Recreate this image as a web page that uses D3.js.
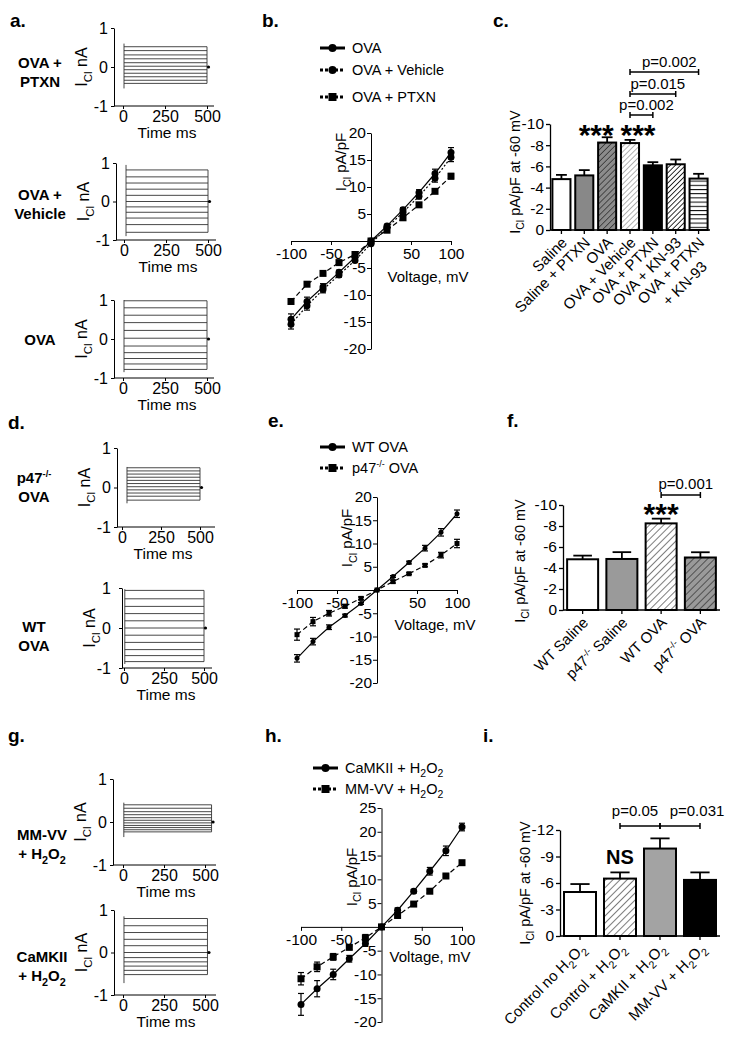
<!DOCTYPE html>
<html><head><meta charset="utf-8">
<script src="https://cdn.jsdelivr.net/npm/d3@7"></script>
<style>
body{margin:0;background:#fff;}
svg{display:block;}
</style></head><body>
<svg id="fig" width="731" height="1038"></svg>
<script>
// ================= DATA =================
// raw current traces (nA) – one value per voltage step
const traceTimeTicks = [0, 250, 500];
const traceCurrentTicks = [-1, 0, 1];
const traceOvaPtxn    = [0.52, 0.42, 0.31, 0.21, 0.11, 0.02, -0.07, -0.16, -0.25, -0.34, -0.42];
const spikeOvaPtxn    = [0.6, -0.55];
const winOvaPtxn      = [6, 500];
const traceOvaVehicle = [0.82, 0.64, 0.48, 0.32, 0.16, 0.0, -0.14, -0.28, -0.43, -0.6, -0.8];
const spikeOvaVehicle = [0.95, -0.9];
const winOvaVehicle   = [12, 500];
const traceOva        = [0.98, 0.8, 0.61, 0.42, 0.22, 0.02, -0.18, -0.35, -0.5, -0.64, -0.78];
const spikeOva        = [1.0, -0.85];
const winOva          = [6, 500];
const traceP47Ova     = [0.5, 0.42, 0.34, 0.26, 0.18, 0.1, 0.02, -0.06, -0.14, -0.22, -0.32];
const spikeP47Ova     = [0.52, -0.4];
const winP47Ova       = [32, 500];
const traceWtOva      = [0.94, 0.73, 0.54, 0.36, 0.18, 0.0, -0.18, -0.36, -0.54, -0.69, -0.84];
const spikeWtOva      = [0.97, -0.9];
const winWtOva        = [5, 500];
const traceMmvv       = [0.4, 0.32, 0.24, 0.17, 0.1, 0.04, -0.02, -0.08, -0.13, -0.18, -0.23];
const spikeMmvv       = [0.45, -0.35];
const winMmvv         = [5, 540];
const traceCamkii     = [0.8, 0.63, 0.47, 0.31, 0.16, 0.0, -0.12, -0.22, -0.32, -0.42, -0.52];
const spikeCamkii     = [0.85, -0.72];
const winCamkii       = [6, 515];

// I-V curves (pA/pF)
const voltages = [-100, -80, -60, -40, -20, 0, 20, 40, 60, 80, 100];
const ivXTicks = [-100, -50, 50, 100];
const ivTicks20 = [-20, -15, -10, -5, 5, 10, 15, 20];
const ivTicks25 = [-20, -15, -10, -5, 5, 10, 15, 20, 25];
const ivOva         = [-14.5, -11.2, -8.5, -5.8, -3.0, 0, 2.8, 5.8, 9.0, 12.5, 16.4];
const ivOvaErr      = [1.0, 0.8, 0.6, 0.4, 0.3, 0.2, 0.3, 0.4, 0.5, 0.8, 0.9];
const ivOvaVeh      = [-15.4, -12.0, -9.0, -6.3, -3.6, -0.5, 2.5, 5.3, 8.3, 11.6, 15.5];
const ivOvaVehErr   = [0.9, 0.8, 0.6, 0.4, 0.3, 0.3, 0.3, 0.4, 0.5, 0.7, 0.8];
const ivOvaPtxn     = [-11.2, -8.0, -6.0, -4.0, -2.5, 0, 2.0, 4.3, 6.7, 9.2, 12.0];
const ivOvaPtxnErr  = [0.4, 0.3, 0.3, 0.3, 0.3, 0.2, 0.2, 0.3, 0.3, 0.3, 0.5];
const ivWt          = [-14.7, -11.1, -8.0, -5.5, -2.9, 0, 2.9, 5.9, 9.0, 12.4, 16.4];
const ivWtErr       = [0.8, 0.7, 0.5, 0.3, 0.2, 0.1, 0.2, 0.3, 0.6, 0.8, 0.8];
const ivP47         = [-9.6, -6.8, -5.0, -3.5, -1.8, 0, 1.8, 3.5, 5.3, 7.5, 10.0];
const ivP47Err      = [1.2, 0.9, 0.6, 0.4, 0.3, 0.1, 0.3, 0.2, 0.3, 0.6, 0.9];
const ivCamkii      = [-16.3, -13.0, -10.0, -6.7, -3.5, 0, 3.5, 7.5, 11.7, 16.0, 21.0];
const ivCamkiiErr   = [2.3, 1.7, 1.1, 0.7, 0.6, 0.2, 0.5, 0.4, 0.8, 1.0, 0.8];
const ivMmvv        = [-10.9, -8.4, -6.3, -4.3, -2.3, 0, 2.4, 4.8, 7.5, 10.7, 13.5];
const ivMmvvErr     = [1.3, 1.0, 0.7, 0.5, 0.7, 0.2, 0.5, 0.3, 0.3, 0.3, 0.4];

// bar charts (pA/pF at -60 mV)
const barCCats   = ['Saline', 'Saline + PTXN', 'OVA', 'OVA + Vehicle', 'OVA + PTXN', 'OVA + KN-93', 'OVA + PTXN\n+ KN-93'];
const barCValues = [-4.8, -5.15, -8.25, -8.2, -6.1, -6.2, -4.85];
const barCErr    = [0.4, 0.5, 0.5, 0.3, 0.3, 0.45, 0.45];
const barCTicks  = [0, -2, -4, -6, -8, -10];
const barCPvals  = [[3, 4, 'p=0.002'], [3, 5, 'p=0.015'], [3, 6, 'p=0.002']];

const barFCats   = ['WT Saline', 'p47^{-/-} Saline', 'WT OVA', 'p47^{-/-} OVA'];
const barFValues = [-4.83, -4.86, -8.25, -5.0];
const barFErr    = [0.35, 0.65, 0.45, 0.5];
const barFTicks  = [0, -2, -4, -6, -8, -10];
const barFPvals  = [[2, 3, 'p=0.001']];

const barICats   = ['Control no H_{2}O_{2}', 'Control + H_{2}O_{2}', 'CaMKII + H_{2}O_{2}', 'MM-VV + H_{2}O_{2}'];
const barIValues = [-4.98, -6.5, -9.9, -6.35];
const barIErr    = [0.9, 0.7, 1.15, 0.85];
const barITicks  = [0, -3, -6, -9, -12];
const barIPvals  = [[1, 2, 'p=0.05'], [2, 3, 'p=0.031']];

// ================= DRAWING =================
const FONT = "'Liberation Sans', Arial, Helvetica, sans-serif";
const svg = d3.select('#fig').attr('font-family', FONT);

// patterns
const defs = svg.append('defs');
function hatch(id, bg, fg, spacing, w, angle) {
  const p = defs.append('pattern').attr('id', id).attr('patternUnits', 'userSpaceOnUse')
    .attr('width', spacing).attr('height', spacing).attr('patternTransform', `rotate(${angle})`);
  p.append('rect').attr('width', spacing).attr('height', spacing).attr('fill', bg);
  p.append('line').attr('x1', 0).attr('y1', 0).attr('x2', 0).attr('y2', spacing)
    .attr('stroke', fg).attr('stroke-width', w);
}
hatch('hGrayDark', '#8c8c8c', '#222', 4.2, 1.3, 45);
hatch('hLight', '#fff', '#666', 3.8, 1.0, 45);
hatch('hBW', '#fff', '#000', 3.6, 1.6, 45);
hatch('hStripe', '#fff', '#000', 4.2, 2.0, 90);
hatch('hWhite', '#fff', '#111', 5, 1.1, 45);
hatch('hGray', '#9a9a9a', '#111', 5, 1.1, 45);

function rich(sel, str, size) {
  const parts = str.split(/(_\{[^}]*\}|\^\{[^}]*\})/).filter(s => s.length);
  let shift = 0;
  parts.forEach(p => {
    let t = p, dy = 0, fs = size;
    if (p.startsWith('_{')) { t = p.slice(2, -1); dy = size * 0.3; fs = size * 0.72; }
    else if (p.startsWith('^{')) { t = p.slice(2, -1); dy = -size * 0.4; fs = size * 0.62; }
    const span = sel.append('tspan').text(t).attr('font-size', fs);
    const d = dy - shift;
    if (d) span.attr('dy', d);
    shift = dy;
  });
}
function styleAxis(g, fs) {
  g.attr('font-family', FONT).attr('font-size', fs);
  g.selectAll('path,line').attr('stroke', '#000').attr('stroke-width', 1);
  g.selectAll('text').attr('fill', '#000');
}
function letter(t, x, y) {
  svg.append('text').attr('x', x).attr('y', y).attr('font-size', 19).attr('font-weight', 'bold').text(t);
}
function rotLabel(g, x, y, str, fs) {
  const t = g.append('text').attr('transform', `translate(${x},${y}) rotate(-90)`)
    .attr('text-anchor', 'middle').attr('font-size', fs);
  rich(t, str, fs);
}

// ---------- trace panels ----------
function tracePanel(p) {
  const x = d3.scaleLinear().domain([0, 500]).range([p.x0, p.x500]);
  const y = d3.scaleLinear().domain([-1, 1]).range([p.yb, p.yt]);
  const g = svg.append('g');
  const ya = g.append('g').attr('transform', `translate(${p.ax},0)`)
    .call(d3.axisLeft(y).tickValues(traceCurrentTicks).tickSize(3).tickSizeOuter(0)
      .tickPadding(p.tp || 3).tickFormat(d => String(d)));
  styleAxis(ya, 16);
  const xa = g.append('g').attr('transform', `translate(0,${p.yb})`)
    .call(d3.axisBottom(x).tickValues(traceTimeTicks).tickSize(3).tickSizeOuter(0)
      .tickPadding(2).tickFormat(d => String(d)));
  xa.select('.domain').remove();
  styleAxis(xa, 16);
  g.append('line').attr('x1', p.ax).attr('x2', p.xEnd).attr('y1', p.yb).attr('y2', p.yb)
    .attr('stroke', '#000');
  const [t0, t1] = p.win;
  const tr = g.append('g').attr('stroke', '#333').attr('stroke-width', 0.9);
  p.levels.forEach(v => tr.append('line').attr('x1', x(t0)).attr('x2', x(t1))
    .attr('y1', y(v)).attr('y2', y(v)));
  tr.append('line').attr('x1', x(t0)).attr('x2', x(t0))
    .attr('y1', y(p.spike[0])).attr('y2', y(p.spike[1]));
  tr.append('line').attr('x1', x(t1)).attr('x2', x(t1))
    .attr('y1', y(d3.max(p.levels))).attr('y2', y(d3.min(p.levels)));
  g.append('circle').attr('cx', x(t1) + 1.5).attr('cy', y(0)).attr('r', 1.6).attr('fill', '#000');
  rotLabel(g, p.ax - 27, y(0), 'I_{Cl} nA', 16);
  g.append('text').attr('x', (p.x0 + p.x500) / 2 + 2).attr('y', p.yb + 32)
    .attr('text-anchor', 'middle').attr('font-size', 15.5).text('Time ms');
  p.name.forEach((s, i) => {
    const t = g.append('text').attr('x', p.nx).attr('y', p.ny + i * 19)
      .attr('text-anchor', 'middle').attr('font-size', 15).attr('font-weight', 'bold');
    rich(t, s, 15);
  });
}

// ---------- I-V panels ----------
function marker(g, type, cx, cy, size) {
  if (type === 'circle') g.append('circle').attr('cx', cx).attr('cy', cy).attr('r', size / 2).attr('fill', '#000');
  else g.append('rect').attr('x', cx - size / 2).attr('y', cy - size / 2)
    .attr('width', size).attr('height', size).attr('fill', '#000');
}
function ivPanel(p) {
  const x = d3.scaleLinear().domain([-100, 100]).range([p.xl, p.xr]);
  const y = d3.scaleLinear().domain(p.yDom).range([p.yb, p.yt]);
  const g = svg.append('g');
  const xa = g.append('g').attr('transform', `translate(0,${y(0)})`)
    .call(d3.axisBottom(x).tickValues(ivXTicks).tickSize(4).tickSizeOuter(0)
      .tickPadding(3).tickFormat(d => String(d)));
  styleAxis(xa, 15.5);
  const ya = g.append('g').attr('transform', `translate(${x(0)},0)`)
    .call(d3.axisLeft(y).tickValues(p.yTicks).tickSize(4).tickSizeOuter(0)
      .tickPadding(1).tickFormat(d => String(d)));
  styleAxis(ya, 15.5);
  const line = d3.line().x((d, i) => x(voltages[i])).y(d => y(d));
  p.series.forEach(s => {
    g.append('path').datum(s.values).attr('d', line).attr('fill', 'none')
      .attr('stroke', '#000').attr('stroke-width', 1.2).attr('stroke-dasharray', s.dash);
    s.values.forEach((v, i) => {
      const cx = x(voltages[i]), e = s.err[i];
      const eb = g.append('g').attr('stroke', '#000').attr('stroke-width', 1.2);
      eb.append('line').attr('x1', cx).attr('x2', cx).attr('y1', y(v - e)).attr('y2', y(v + e));
      [v - e, v + e].forEach(w => eb.append('line').attr('x1', cx - 3).attr('x2', cx + 3)
        .attr('y1', y(w)).attr('y2', y(w)));
      marker(g, s.marker, cx, y(v), s.size);
    });
  });
  p.series.forEach((s, i) => {
    const ly = p.legY[i];
    g.append('line').attr('x1', p.legX).attr('x2', p.legX + 25).attr('y1', ly).attr('y2', ly)
      .attr('stroke', '#000').attr('stroke-width', 3).attr('stroke-dasharray', s.legDash);
    marker(g, s.marker, p.legX + 12.5, ly, 8);
    const t = g.append('text').attr('x', p.legX + 32).attr('y', ly + 5).attr('font-size', 14.5);
    rich(t, s.name, 14.5);
  });
  rotLabel(g, x(0) - 25, p.labY, 'I_{Cl} pA/pF', 15);
  g.append('text').attr('x', p.vx).attr('y', p.vy).attr('text-anchor', 'middle')
    .attr('font-size', 15).text('Voltage, mV');
}

// ---------- bar panels ----------
function barPanel(p) {
  const x = d3.scaleBand().domain(p.cats).range([p.xl, p.xr]).paddingInner(p.pad).paddingOuter(p.pad / 2);
  const y = d3.scaleLinear().domain([0, p.ymin]).range([p.yb, p.yt]);
  const bw = x.bandwidth();
  const g = svg.append('g');
  const ya = g.append('g').attr('transform', `translate(${p.xl},0)`)
    .call(d3.axisLeft(y).tickValues(p.ticks).tickSize(4).tickSizeOuter(0)
      .tickPadding(2).tickFormat(d => String(d)));
  styleAxis(ya, 15.5);
  ya.selectAll('path,line').attr('stroke-width', 1.3);
  g.append('line').attr('x1', p.xl).attr('x2', p.xr).attr('y1', p.yb).attr('y2', p.yb)
    .attr('stroke', '#000').attr('stroke-width', 1.3);
  p.cats.forEach((c, i) => {
    const cx = x(c) + bw / 2, v = p.values[i], e = p.err[i];
    g.append('line').attr('x1', cx).attr('x2', cx).attr('y1', p.yb).attr('y2', p.yb + 4).attr('stroke', '#000').attr('stroke-width', 1.3);
    const eb = g.append('g').attr('stroke', '#000').attr('stroke-width', 1.8);
    eb.append('line').attr('x1', cx).attr('x2', cx).attr('y1', y(v)).attr('y2', y(v - e));
    eb.append('line').attr('x1', cx - bw * 0.3).attr('x2', cx + bw * 0.3).attr('y1', y(v - e)).attr('y2', y(v - e));
    g.append('rect').attr('x', x(c)).attr('y', y(v)).attr('width', bw).attr('height', p.yb - y(v))
      .attr('fill', p.fills[i]).attr('stroke', '#000').attr('stroke-width', 2);
    const t = g.append('text').attr('transform', `translate(${cx + 3},${p.yb + 10}) rotate(-45)`)
      .attr('text-anchor', 'end').attr('font-size', 15);
    c.split('\n').forEach((ln, k) => {
      const sub = t.append('tspan').attr('x', k ? -15 : 0).attr('y', k ? 24 : 5);
      rich(sub, ln, 15);
    });
  });
  // significance brackets
  p.pvals.forEach((pv, k) => {
    const [a, b, txt] = pv;
    const xa = x(p.cats[a]) + bw / 2, xb = x(p.cats[b]) + bw / 2, by = p.brY[k];
    const bg = g.append('g').attr('stroke', '#000').attr('stroke-width', 1.5);
    bg.append('line').attr('x1', xa).attr('x2', xb).attr('y1', by).attr('y2', by);
    [xa, xb].forEach(xx => bg.append('line').attr('x1', xx).attr('x2', xx).attr('y1', by - 3).attr('y2', by + 3));
    g.append('text').attr('x', p.txX ? p.txX[k] : (xa + xb) / 2 + 5).attr('y', p.txY[k])
      .attr('text-anchor', 'middle').attr('font-size', 15).text(txt);
  });
  rotLabel(g, p.labX, p.labY, 'I_{Cl} pA/pF at -60 mV', 14.5);
  return { x, y, bw, g };
}

// ---------- panel letters ----------
letter('a.', 10, 27); letter('b.', 262, 27); letter('c.', 493, 27);
letter('d.', 8, 429); letter('e.', 268, 427); letter('f.', 507, 427);
letter('g.', 8, 742); letter('h.', 265, 742); letter('i.', 483, 742);

// ---------- traces ----------
tracePanel({ ax: 114, x0: 123, x500: 207, yt: 28, yb: 106, xEnd: 214, levels: traceOvaPtxn, spike: spikeOvaPtxn, win: winOvaPtxn, name: ['OVA +', 'PTXN'], nx: 40, ny: 68 });
tracePanel({ ax: 116, x0: 124, x500: 208, yt: 163, yb: 240, xEnd: 216, levels: traceOvaVehicle, spike: spikeOvaVehicle, win: winOvaVehicle, name: ['OVA +', 'Vehicle'], nx: 40, ny: 200 });
tracePanel({ ax: 114, x0: 123, x500: 207, yt: 300, yb: 378, xEnd: 214, levels: traceOva, spike: spikeOva, win: winOva, name: ['OVA'], nx: 40, ny: 345 });
tracePanel({ ax: 117, x0: 122, x500: 200, yt: 448, yb: 527, xEnd: 215, levels: traceP47Ova, spike: spikeP47Ova, win: winP47Ova, name: ['p47^{-/-}', 'OVA'], nx: 34, ny: 483 });
tracePanel({ ax: 122, x0: 124, x500: 204, yt: 588, yb: 668, xEnd: 212, tp: 8, levels: traceWtOva, spike: spikeWtOva, win: winWtOva, name: ['WT', 'OVA'], nx: 34, ny: 632 });
tracePanel({ ax: 113, x0: 123, x500: 205, yt: 779, yb: 865, xEnd: 216, levels: traceMmvv, spike: spikeMmvv, win: winMmvv, name: ['MM-VV', '+ H_{2}O_{2}'], nx: 42, ny: 840 });
tracePanel({ ax: 114, x0: 123, x500: 205, yt: 910, yb: 995, xEnd: 216, levels: traceCamkii, spike: spikeCamkii, win: winCamkii, name: ['CaMKII', '+ H_{2}O_{2}'], nx: 42, ny: 962 });

// ---------- I-V ----------
ivPanel({ xl: 291, xr: 451, yDom: [-20, 20], yb: 349, yt: 133, yTicks: ivTicks20,
  legX: 320, legY: [48, 70, 97], labY: 162, vx: 428, vy: 282,
  series: [
    { name: 'OVA', values: ivOva, err: ivOvaErr, dash: null, legDash: null, marker: 'circle', size: 7 },
    { name: 'OVA + Vehicle', values: ivOvaVeh, err: ivOvaVehErr, dash: '2,2', legDash: '3,2', marker: 'circle', size: 7 },
    { name: 'OVA + PTXN', values: ivOvaPtxn, err: ivOvaPtxnErr, dash: '5,3', legDash: '3,2', marker: 'square', size: 7 }
  ] });
ivPanel({ xl: 297, xr: 457, yDom: [-20, 20], yb: 683, yt: 497, yTicks: ivTicks20,
  legX: 320, legY: [447, 468], labY: 538, vx: 435, vy: 630,
  series: [
    { name: 'WT OVA', values: ivWt, err: ivWtErr, dash: null, legDash: null, marker: 'circle', size: 5 },
    { name: 'p47^{-/-} OVA', values: ivP47, err: ivP47Err, dash: '5,3', legDash: '3,2', marker: 'square', size: 5 }
  ] });
ivPanel({ xl: 301, xr: 462, yDom: [-20, 25], yb: 1022, yt: 808, yTicks: ivTicks25,
  legX: 313, legY: [768, 789], labY: 877, vx: 430, vy: 962,
  series: [
    { name: 'CaMKII + H_{2}O_{2}', values: ivCamkii, err: ivCamkiiErr, dash: null, legDash: null, marker: 'circle', size: 7 },
    { name: 'MM-VV + H_{2}O_{2}', values: ivMmvv, err: ivMmvvErr, dash: '5,3', legDash: '3,2', marker: 'square', size: 7 }
  ] });

// ---------- bars ----------
const c = barPanel({ cats: barCCats, values: barCValues, err: barCErr, ticks: barCTicks, ymin: -10,
  xl: 550, xr: 710, yb: 230, yt: 124, pad: 0.21,
  fills: ['#fff', '#888', 'url(#hGrayDark)', 'url(#hLight)', '#000', 'url(#hBW)', 'url(#hStripe)'],
  pvals: barCPvals, brY: [115, 94, 72], txY: [110, 89, 67], labX: 520, labY: 172 });
[[2, -11], [3, 8]].forEach(([i, dx]) => c.g.append('text')
  .attr('x', c.x(barCCats[i]) + c.bw / 2 + dx).attr('y', 145).attr('text-anchor', 'middle')
  .attr('font-size', 30).attr('font-weight', 'bold').text('***'));

const f = barPanel({ cats: barFCats, values: barFValues, err: barFErr, ticks: barFTicks, ymin: -10,
  xl: 563, xr: 720, yb: 610, yt: 505, pad: 0.21,
  fills: ['#fff', '#9a9a9a', 'url(#hWhite)', 'url(#hGray)'],
  pvals: barFPvals, brY: [495], txY: [489], labX: 525, labY: 561 });
f.g.append('text').attr('x', f.x(barFCats[2]) + f.bw / 2).attr('y', 524).attr('text-anchor', 'middle')
  .attr('font-size', 30).attr('font-weight', 'bold').text('***');

const ip = barPanel({ cats: barICats, values: barIValues, err: barIErr, ticks: barITicks, ymin: -12,
  xl: 560, xr: 720, yb: 936, yt: 830, pad: 0.2,
  fills: ['#fff', 'url(#hWhite)', '#a3a3a3', '#000'],
  pvals: barIPvals, brY: [826, 826], txY: [816, 816], txX: [635, 697], labX: 530, labY: 883 });
ip.g.append('text').attr('x', ip.x(barICats[1]) + ip.bw / 2).attr('y', 864).attr('text-anchor', 'middle')
  .attr('font-size', 20).attr('font-weight', 'bold').text('NS');
</script></body></html>
